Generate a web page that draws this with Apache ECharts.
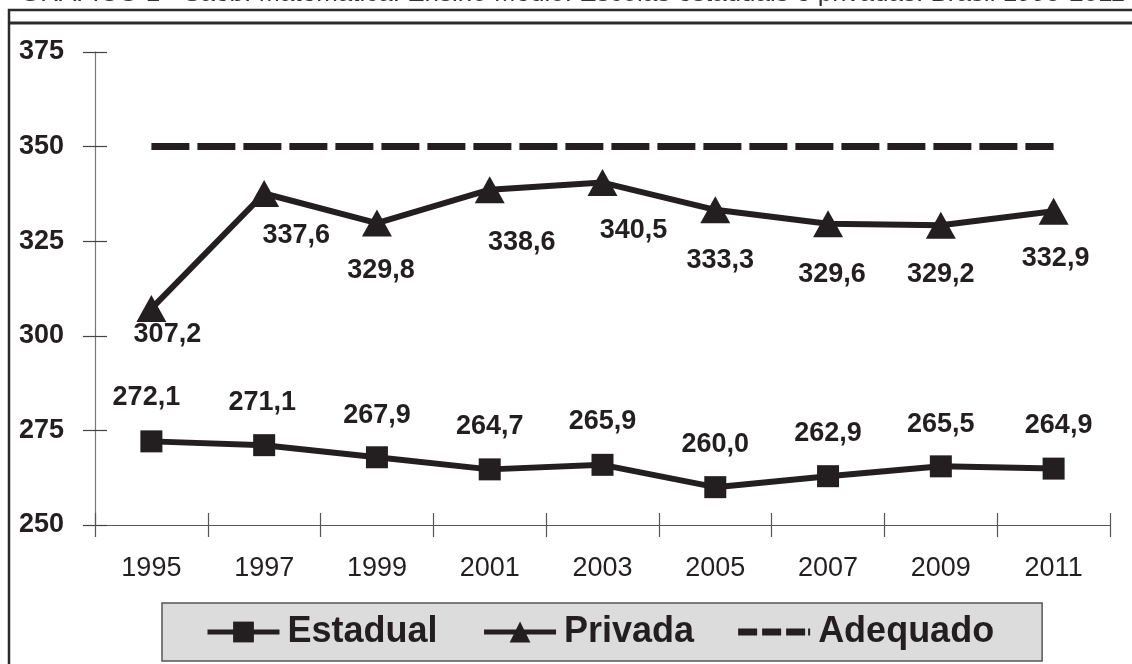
<!DOCTYPE html>
<html>
<head>
<meta charset="utf-8">
<script src="https://cdn.jsdelivr.net/npm/echarts@6/dist/echarts.min.js"></script>
<style>
html,body{margin:0;padding:0;background:#fff;}
#chart{width:1132px;height:664px;}
</style>
</head>
<body>
<div id="chart"></div>
<script>
// ---- data ----
const titleText = 'GRÁFICO 1 - Saeb: Matemática: Ensino Médio: Escolas estaduais e privadas: Brasil 1995-2011';
const years = ['1995','1997','1999','2001','2003','2005','2007','2009','2011'];
const estadual = [272.1, 271.1, 267.9, 264.7, 265.9, 260.0, 262.9, 265.5, 264.9];
const privada  = [307.2, 337.6, 329.8, 338.6, 340.5, 333.3, 329.6, 329.2, 332.9];
const adequado = [350, 350, 350, 350, 350, 350, 350, 350, 350];
const seriesNames = ['Estadual', 'Privada', 'Adequado'];
const yMin = 250, yMax = 375, yStep = 25;

// ---- style (label placement relative to point) ----
const ink = '#231f20';
const privadaLabelShift = [[16,26],[32,42],[4,48],[32,53],[31,48],[5,51],[4,51],[0,49],[2,47]];
const estadualLabelShift = [[-5,-44],[-2,-43],[0,-42],[0,-43],[0,-43],[0,-43],[0,-43],[0,-42],[5,-43]];
const fmt = v => v.toFixed(1).replace('.', ',');
const FONT = 'Liberation Sans, Arial, sans-serif';
const labelFont = {fontFamily: FONT, fontSize:27, fontWeight:'bold', color: ink};
// dashed legend icon (box 72x26): three dashes and a short stub, with corner anchors
const dashIcon = 'path://M0,0h0.01v0.01h-0.01z M71.99,25.99h0.01v0.01h-0.01z ' +
  'M0,9.5h19v7h-19z M24,9.5h19v7h-19z M48,9.5h19v7h-19z M70,9.5h2v7h-2z';

const chart = echarts.init(document.getElementById('chart'), null, {renderer:'canvas'});

const option = {
  backgroundColor: '#fff',
  animation: false,
  textStyle: {fontFamily: FONT, color: ink},
  graphic: [
    {type:'text', left: 20, top: -19, z: 10,
     style:{text: titleText, font: '26px "Liberation Sans", Arial, sans-serif', fill: '#333'}},
    {type:'rect', shape:{x:9, y:10, width:1130, height:700}, style:{fill:'none', stroke:'#2b2b2b', lineWidth:2.5}, silent:true},
    {type:'line', shape:{x1:9, y1:23, x2:1132, y2:23}, style:{stroke:'#2b2b2b', lineWidth:3}, silent:true}
  ],
  grid: {left: 95, right: 22, top: 52, bottom: 139, containLabel: false},
  legend: {
    data: [
      {name: seriesNames[0], lineStyle:{width:5}},
      {name: seriesNames[1], lineStyle:{width:5}},
      {name: seriesNames[2], icon: dashIcon, itemStyle:{color: ink, borderWidth:0}}
    ],
    left: 162, top: 603,
    padding: [11, 48, 11, 43],
    itemWidth: 72, itemHeight: 26, itemGap: 44,
    backgroundColor: '#dcdcdc', borderColor: '#555', borderWidth: 1.5,
    textStyle: {fontFamily: FONT, fontSize: 36, fontWeight:'bold', color: ink, padding:[0,0,0,3]}
  },
  xAxis: [
    {type:'category', data: years, boundaryGap: true, position:'bottom',
     axisLine:{show:true, lineStyle:{color:'#555', width:1.2}},
     axisTick:{show:true, length:12, lineStyle:{color:'#555', width:1.2}},
     axisLabel:{fontSize:27, color: ink, margin: 30, fontFamily: FONT},
     splitLine:{show:false}},
    {type:'category', data: years, boundaryGap: true, position:'bottom',
     axisLine:{show:false}, axisLabel:{show:false},
     axisTick:{show:true, inside:true, length:12, lineStyle:{color:'#555', width:1.2}},
     splitLine:{show:false}}
  ],
  yAxis: [
    {type:'value', min: yMin, max: yMax, interval: yStep, position:'left',
     axisLine:{show:true, lineStyle:{color:'#777', width:1.2}},
     axisTick:{show:true, length:12, lineStyle:{color:'#444', width:1.2}},
     axisLabel:{fontSize:27, fontWeight:'bold', color: ink, margin: 31, fontFamily: FONT},
     splitLine:{show:false}},
    {type:'value', min: yMin, max: yMax, interval: yStep, position:'left',
     axisLine:{show:false}, axisLabel:{show:false},
     axisTick:{show:true, inside:true, length:12, lineStyle:{color:'#444', width:1.2}},
     splitLine:{show:false}}
  ],
  series: [
    {name: seriesNames[0], type:'line', xAxisIndex:0, yAxisIndex:0,
     data: estadual.map((v,i)=>({value:v, label:{offset: estadualLabelShift[i]}})),
     symbol:'rect', symbolSize: 22,
     lineStyle:{color: ink, width: 6}, itemStyle:{color: ink},
     label:{show:true, position:'inside', formatter: p => fmt(p.value), ...labelFont},
     z: 3},
    {name: seriesNames[1], type:'line', xAxisIndex:0, yAxisIndex:0,
     data: privada.map((v,i)=>({value:v, label:{offset: privadaLabelShift[i]}})),
     symbol:'triangle', symbolSize: [30, 27],
     lineStyle:{color: ink, width: 6}, itemStyle:{color: ink},
     label:{show:true, position:'inside', formatter: p => fmt(p.value), ...labelFont},
     z: 3},
    {name: seriesNames[2], type:'line', xAxisIndex:0, yAxisIndex:0,
     data: adequado, symbol:'none', showSymbol:false,
     lineStyle:{color: ink, width: 7, type:[38, 8], cap:'butt'}, itemStyle:{color: ink},
     z: 2}
  ]
};
chart.setOption(option);
</script>
</body>
</html>
